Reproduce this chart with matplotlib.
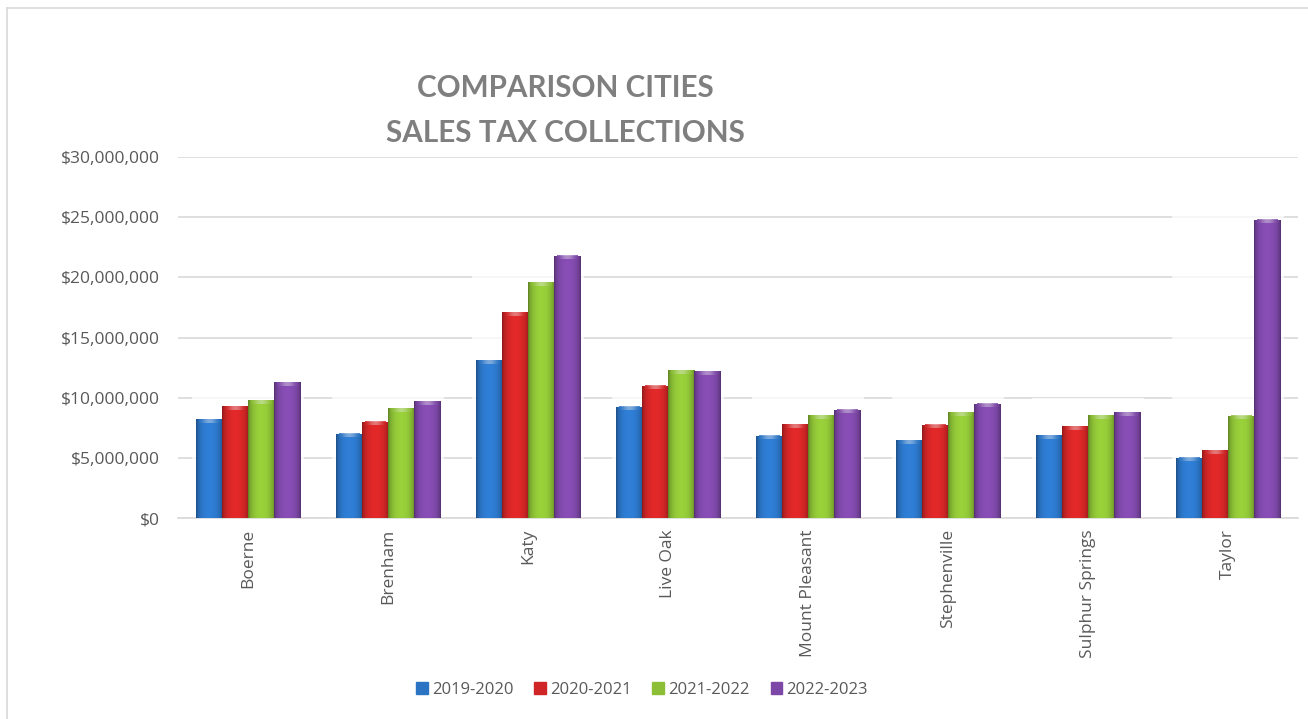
"""Comparison cities - sales tax collections"""
import numpy as np
import matplotlib.pyplot as plt
from matplotlib.lines import Line2D
from matplotlib.patches import Patch
from matplotlib.colors import to_rgb
from matplotlib.ticker import FuncFormatter

plt.rcParams['font.family'] = ['Open Sans', 'DejaVu Sans']

CIUDADES = ['Boerne', 'Brenham', 'Katy', 'Live Oak', 'Mount Pleasant',
            'Stephenville', 'Sulphur Springs', 'Taylor']
PERIODOS = ['2019-2020', '2020-2021', '2021-2022', '2022-2023']
V_2019 = [8.2e6, 7.0e6, 13.1e6, 9.25e6, 6.85e6, 6.45e6, 6.9e6, 5.0e6]
V_2020 = [9.3e6, 8.0e6, 17.1e6, 11.0e6, 7.8e6, 7.75e6, 7.65e6, 5.65e6]
V_2021 = [9.8e6, 9.1e6, 19.6e6, 12.3e6, 8.55e6, 8.8e6, 8.55e6, 8.5e6]
V_2022 = [11.3e6, 9.7e6, 21.8e6, 12.2e6, 9.0e6, 9.5e6, 8.8e6, 24.8e6]
SERIES = [V_2019, V_2020, V_2021, V_2022]
COLORES = ['#2b74c4', '#cf2526', '#8cbf35', '#7c47a6']
GRIS = '#595959'
TITULO = ['COMPARISON CITIES', 'SALES TAX COLLECTIONS']

fig = plt.figure(figsize=(13.08, 7.19), dpi=100)
ax = fig.add_axes([178 / 1308, 1 - 518 / 719, 1120 / 1308, 361 / 719])

# marco del grafico
fig.add_artist(Line2D([7 / 1308, 7 / 1308], [0, 1 - 8 / 719], color='#d9d9d9', lw=1.2))
fig.add_artist(Line2D([7 / 1308, 1], [1 - 8 / 719, 1 - 8 / 719], color='#d9d9d9', lw=1.2))

x = np.arange(len(CIUDADES))
ANCHO = 0.186


def gradiente(color, n=64):
    """Sombreado horizontal: bordes oscuros, centro claro"""
    base = np.array(to_rgb(color))
    t = np.linspace(-1, 1, n)
    f = 0.62 + 0.48 * (1 - t ** 2) ** 0.5
    img = np.clip(base[None, :] * f[:, None], 0, 1)
    return img[None, :, :]


def tapa(color, n=64):
    """Brillo en la parte superior de la barra"""
    base = np.array(to_rgb(color))
    t = np.linspace(-1, 1, n)
    mezcla = 0.45 * (1 - t ** 2) ** 2
    img = base[None, :] * (1 - mezcla[:, None]) + mezcla[:, None]
    img = np.clip(img, 0, 1)
    return np.repeat(img[None, :, :], 2, axis=0)


for k, (serie, color) in enumerate(zip(SERIES, COLORES)):
    pos = x + (k - 1.5) * ANCHO
    barras = ax.bar(pos, serie, width=ANCHO, color=color, zorder=3)
    for b in barras:
        x0, w, h = b.get_x(), b.get_width(), b.get_height()
        im = ax.imshow(gradiente(color), extent=(x0, x0 + w, 0, h),
                       aspect='auto', zorder=4, interpolation='bicubic')
        im.set_clip_path(b)
        ax.imshow(tapa(color), extent=(x0 + w * 0.1, x0 + w * 0.9, h - 0.3e6, h - 0.05e6),
                  aspect='auto', zorder=5, interpolation='bicubic', alpha=0.85)

# zona clara detras de cada grupo
for i in range(len(CIUDADES)):
    alto = max(s[i] for s in SERIES) + 1.2e6
    ax.add_patch(plt.Rectangle((i - 0.4, 0), 0.8, alto, color='white', alpha=0.75,
                               zorder=2, lw=0))

ax.set_xlim(-0.5, len(CIUDADES) - 0.5)
ax.set_ylim(0, 30e6)
ax.set_yticks(np.arange(0, 30e6 + 1, 5e6))
ax.yaxis.set_major_formatter(FuncFormatter(lambda v, p: f'${v:,.0f}'))
ax.grid(axis='y', color='#d9d9d9', lw=1.2, zorder=1)
ax.set_axisbelow(True)
for lado in ['top', 'right', 'left']:
    ax.spines[lado].set_visible(False)
ax.spines['bottom'].set_color('#d9d9d9')
ax.spines['bottom'].set_linewidth(1.2)
ax.tick_params(axis='y', length=0, pad=13, labelsize=12.5, labelcolor=GRIS)
ax.tick_params(axis='x', length=0, pad=8, labelsize=12.5, labelcolor=GRIS)
ax.set_xticks(x)
ax.set_xticklabels(CIUDADES, rotation=90, va='top')

for linea, y_px in zip(TITULO, [88, 133]):
    fig.text(565 / 1308, 1 - y_px / 719, linea, ha='center', va='center',
             fontsize=21.3, fontweight='bold', color='#7f7f7f',
             family=['Lato', 'DejaVu Sans'])

manejadores = [Patch(facecolor=c, edgecolor=c) for c in COLORES]
fig.legend(manejadores, PERIODOS, loc='center', bbox_to_anchor=(642 / 1308, 1 - 690 / 719),
           ncol=4, frameon=False, fontsize=12, labelcolor=GRIS,
           handlelength=0.7, handleheight=0.7, handletextpad=0.25, columnspacing=1.25)

fig.savefig('out.png', dpi=100)
